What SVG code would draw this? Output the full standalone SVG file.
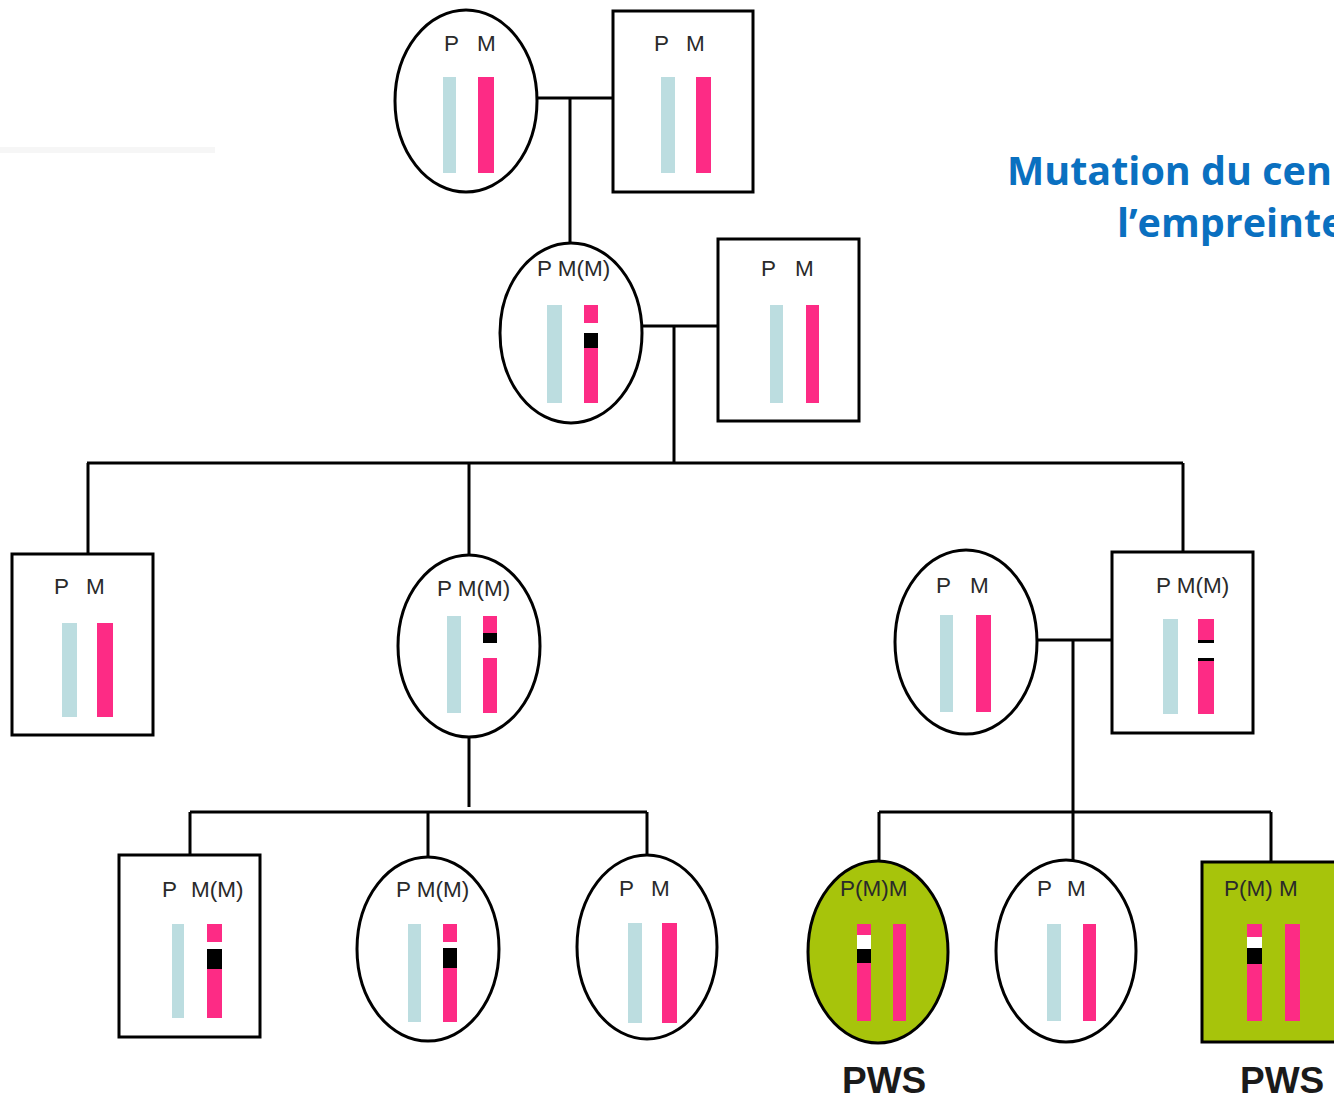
<svg xmlns="http://www.w3.org/2000/svg" width="1334" height="1102" viewBox="0 0 1334 1102">
<style>
.node{fill:#ffffff;stroke:#000;stroke-width:3}
.aff{fill:#a7c40b;stroke:#000;stroke-width:3}
.lbl{font-family:"Liberation Sans",Arial,sans-serif;font-size:22.5px;fill:#2a2a2a}
.p{fill:#bcdde0}
.m{fill:#fd2b85}
.blk{fill:#000}
.wht{fill:#ffffff}
.conn{stroke:#000;stroke-width:3;fill:none}
.pws{font-family:"Liberation Sans",Arial,sans-serif;font-size:37px;font-weight:bold;fill:#1a1a1a}
.title{font-family:"Open Sans","Noto Sans",sans-serif;font-size:39.5px;font-weight:bold;fill:#0a70c0}
</style>
<rect x="0" y="0" width="1334" height="1102" fill="#ffffff"/>
<rect x="0" y="147" width="215" height="6" fill="#f6f6f6"/>

<g id="connectors">
<path class="conn" d="M537,98 H613 M570,98 V243"/>
<path class="conn" d="M642,326 H718 M674,326 V463"/>
<path class="conn" d="M87,463 H1183 M88,463 V555 M469,463 V555 M1183,463 V552"/>
<path class="conn" d="M469,737 V807"/>
<path class="conn" d="M190,812 H647 M190,812 V855 M428,812 V857 M647,812 V855"/>
<path class="conn" d="M1037,640 H1112 M1073,640 V812"/>
<path class="conn" d="M879,812 H1271 M879,812 V862 M1073,812 V860 M1271,812 V862"/>
</g>

<g id="title">
<text class="title" x="1007" y="185">Mutation du cen</text>
<text class="title" x="1117" y="237">l’empreinte</text>
</g>

<g id="g1-mother">
<ellipse class="node" cx="466" cy="101" rx="71" ry="91"/>
<text class="lbl" y="51"><tspan x="444">P</tspan><tspan x="477">M</tspan></text>
<rect class="p" x="443" y="77" width="13" height="96"/>
<rect class="m" x="478" y="77" width="16" height="96"/>
</g>

<g id="g1-father">
<rect class="node" x="613" y="11" width="140" height="181"/>
<text class="lbl" y="51"><tspan x="654">P</tspan><tspan x="686">M</tspan></text>
<rect class="p" x="661" y="77" width="14" height="96"/>
<rect class="m" x="696" y="77" width="15" height="96"/>
</g>

<g id="g2-mother">
<ellipse class="node" cx="571" cy="333" rx="71" ry="90"/>
<text class="lbl" x="537" y="276">P M(M)</text>
<rect class="p" x="547" y="305" width="15" height="98"/>
<rect class="m" x="584" y="305" width="14" height="18"/>
<rect class="blk" x="584" y="333" width="14" height="15"/>
<rect class="m" x="584" y="348" width="14" height="55"/>
</g>

<g id="g2-father">
<rect class="node" x="718" y="239" width="141" height="182"/>
<text class="lbl" y="276"><tspan x="761">P</tspan><tspan x="795">M</tspan></text>
<rect class="p" x="770" y="305" width="13" height="98"/>
<rect class="m" x="806" y="305" width="13" height="98"/>
</g>

<g id="g3-son1">
<rect class="node" x="12" y="554" width="141" height="181"/>
<text class="lbl" y="594"><tspan x="54">P</tspan><tspan x="86">M</tspan></text>
<rect class="p" x="62" y="623" width="15" height="94"/>
<rect class="m" x="97" y="623" width="16" height="94"/>
</g>

<g id="g3-daughter">
<ellipse class="node" cx="469" cy="646" rx="71" ry="91"/>
<text class="lbl" x="437" y="596">P M(M)</text>
<rect class="p" x="447" y="616" width="14" height="97"/>
<rect class="m" x="483" y="616" width="14" height="17"/>
<rect class="blk" x="483" y="633" width="14" height="10"/>
<rect class="m" x="483" y="658" width="14" height="55"/>
</g>

<g id="g3-wife">
<ellipse class="node" cx="966" cy="642" rx="71" ry="92"/>
<text class="lbl" y="593"><tspan x="936">P</tspan><tspan x="970">M</tspan></text>
<rect class="p" x="940" y="615" width="13" height="97"/>
<rect class="m" x="976" y="615" width="15" height="97"/>
</g>

<g id="g3-son2">
<rect class="node" x="1112" y="552" width="141" height="181"/>
<text class="lbl" x="1156" y="593">P M(M)</text>
<rect class="p" x="1163" y="619" width="15" height="95"/>
<rect class="m" x="1198" y="619" width="16" height="21"/>
<rect class="blk" x="1198" y="640" width="16" height="3"/>
<rect class="blk" x="1198" y="658" width="16" height="3"/>
<rect class="m" x="1198" y="661" width="16" height="53"/>
</g>

<g id="g4-son1">
<rect class="node" x="119" y="855" width="141" height="182"/>
<text class="lbl" y="897"><tspan x="162">P</tspan><tspan x="191">M(M)</tspan></text>
<rect class="p" x="172" y="924" width="12" height="94"/>
<rect class="m" x="207" y="924" width="15" height="18"/>
<rect class="blk" x="207" y="949" width="15" height="20"/>
<rect class="m" x="207" y="969" width="15" height="49"/>
</g>

<g id="g4-daughter1">
<ellipse class="node" cx="428" cy="949" rx="71" ry="92"/>
<text class="lbl" x="396" y="897">P M(M)</text>
<rect class="p" x="408" y="924" width="13" height="98"/>
<rect class="m" x="443" y="924" width="14" height="18"/>
<rect class="blk" x="443" y="948" width="14" height="20"/>
<rect class="m" x="443" y="968" width="14" height="54"/>
</g>

<g id="g4-daughter2">
<ellipse class="node" cx="647" cy="947" rx="70" ry="92"/>
<text class="lbl" y="896"><tspan x="619">P</tspan><tspan x="651">M</tspan></text>
<rect class="p" x="628" y="923" width="14" height="100"/>
<rect class="m" x="662" y="923" width="15" height="100"/>
</g>

<g id="g4-pws-daughter">
<ellipse class="aff" cx="878" cy="952" rx="70" ry="91"/>
<text class="lbl" x="840" y="896">P(M)M</text>
<rect class="m" x="857" y="924" width="14" height="11"/>
<rect class="wht" x="857" y="935" width="14" height="14"/>
<rect class="blk" x="857" y="949" width="14" height="14"/>
<rect class="m" x="857" y="963" width="14" height="58"/>
<rect class="m" x="893" y="924" width="13" height="97"/>
<text class="pws" x="842" y="1093">PWS</text>
</g>

<g id="g4-daughter3">
<ellipse class="node" cx="1066" cy="951" rx="70" ry="91"/>
<text class="lbl" y="896"><tspan x="1037">P</tspan><tspan x="1067">M</tspan></text>
<rect class="p" x="1047" y="924" width="14" height="97"/>
<rect class="m" x="1083" y="924" width="13" height="97"/>
</g>

<g id="g4-pws-son">
<rect class="aff" x="1202" y="862" width="150" height="180"/>
<text class="lbl" x="1224" y="896">P(M) M</text>
<rect class="m" x="1247" y="924" width="15" height="13"/>
<rect class="wht" x="1247" y="937" width="15" height="11"/>
<rect class="blk" x="1247" y="948" width="15" height="16"/>
<rect class="m" x="1247" y="964" width="15" height="57"/>
<rect class="m" x="1285" y="924" width="15" height="97"/>
<text class="pws" x="1240" y="1093">PWS</text>
</g>
</svg>
